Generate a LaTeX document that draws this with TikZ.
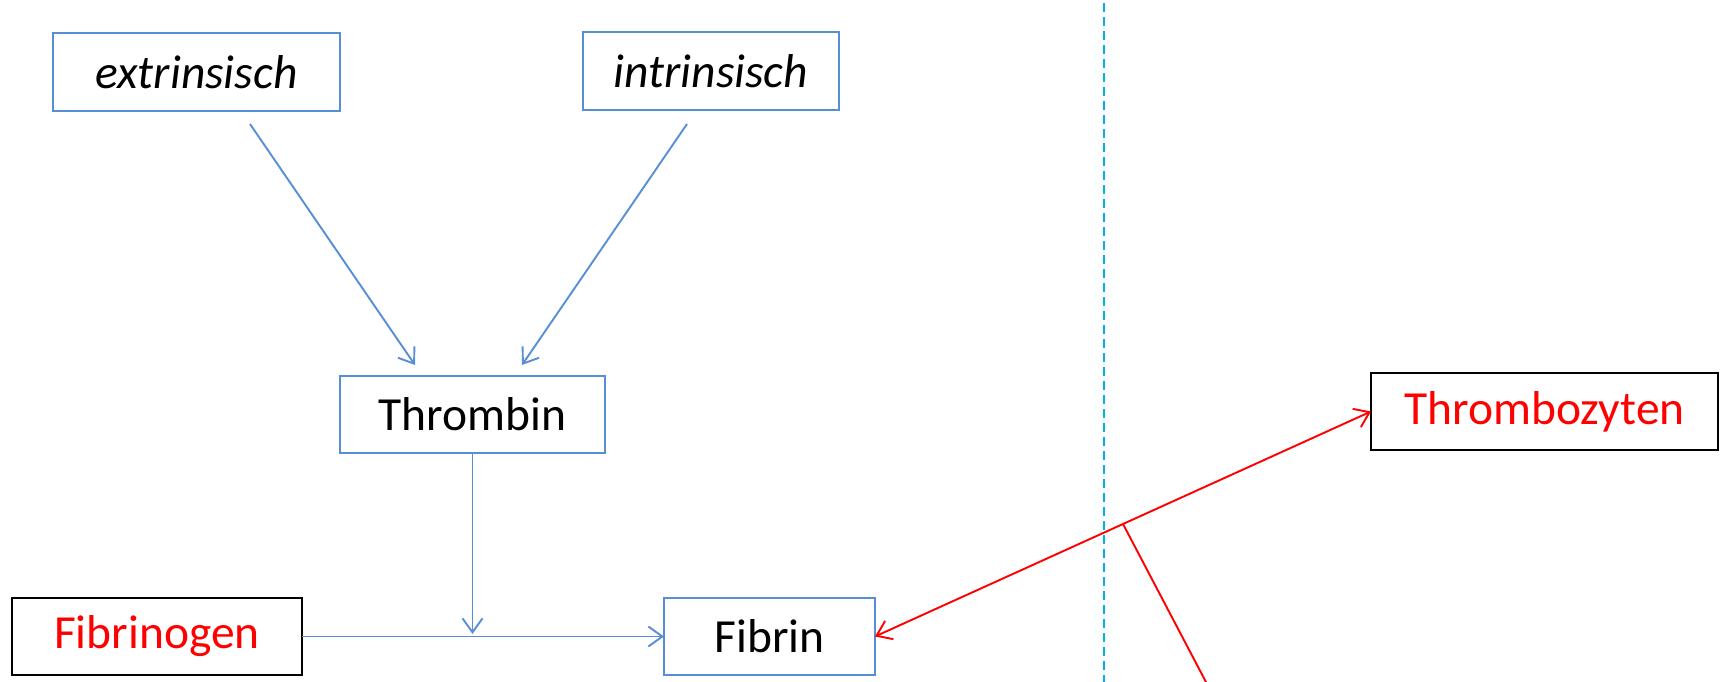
\documentclass[tikz,border=0pt]{standalone}
\usepackage{fontspec}
\setmainfont{Carlito}
\usetikzlibrary{arrows.meta,calc}
\definecolor{boxblue}{RGB}{88,142,214}
\definecolor{divcyan}{RGB}{0,176,240}
\definecolor{hired}{RGB}{255,0,0}
\begin{document}
\begin{tikzpicture}[x=1pt,y=-1pt,
  every node/.style={font=\fontsize{47.5}{56}\selectfont, inner sep=0pt, outer sep=0pt},
  bluebox/.style={draw=boxblue, line width=2pt, text=black},
  blackbox/.style={draw=black, line width=2pt, text=hired},
  bluearrow/.style={draw=boxblue, line width=1.9pt, -{Straight Barb[length=14pt,width=20pt,line width=1.9pt]}},
  redline/.style={draw=hired, line width=1.9pt}]
\useasboundingbox (0,0) rectangle (1727,682);

% boxes
\node[bluebox, minimum width=287pt, minimum height=78pt] (ext) at (196.5,72) {\itshape extrinsisch};
\node[bluebox, minimum width=256pt, minimum height=78pt] (int) at (711,71) {\itshape intrinsisch};
\node[bluebox, minimum width=265pt, minimum height=77pt] (thr) at (472.5,414.5) {Thrombin};
\node[blackbox, minimum width=290pt, minimum height=77pt] (fbg) at (157,636.5) {Fibrinogen};
\node[bluebox, minimum width=211pt, minimum height=77pt] (fib) at (769.5,636.5) {Fibrin};
\node[blackbox, minimum width=347pt, minimum height=77pt] (tbz) at (1544.5,411.5) {Thrombozyten};

% pathway arrows
\coordinate (e1) at (250,124);
\coordinate (e2) at (415,365);
\coordinate (i1) at (687,124);
\coordinate (i2) at (522,365);
\coordinate (tj) at (472.5,634);
\draw[bluearrow] (e1) -- (e2);
\draw[bluearrow] (i1) -- (i2);
\draw[bluearrow] (thr.south) -- (tj);
\draw[bluearrow] (fbg.east) -- (fib.west);

% divider
\coordinate (d1) at (1104,3);
\coordinate (d2) at (1104,682);
\draw[divcyan, line width=2pt, dash pattern=on 9pt off 5pt] (d1) -- (d2);

% red link with branch
\draw[redline, {Straight Barb[length=14pt,width=20pt,line width=1.9pt]}-{Straight Barb[length=14pt,width=20pt,line width=1.9pt]}] (fib.east) -- (tbz.west);
\coordinate (rm) at ($(fib.east)!0.5!(tbz.west)$);
\coordinate (rb) at (1207,684);
\draw[redline] (rm) -- (rb);
\end{tikzpicture}
\end{document}
